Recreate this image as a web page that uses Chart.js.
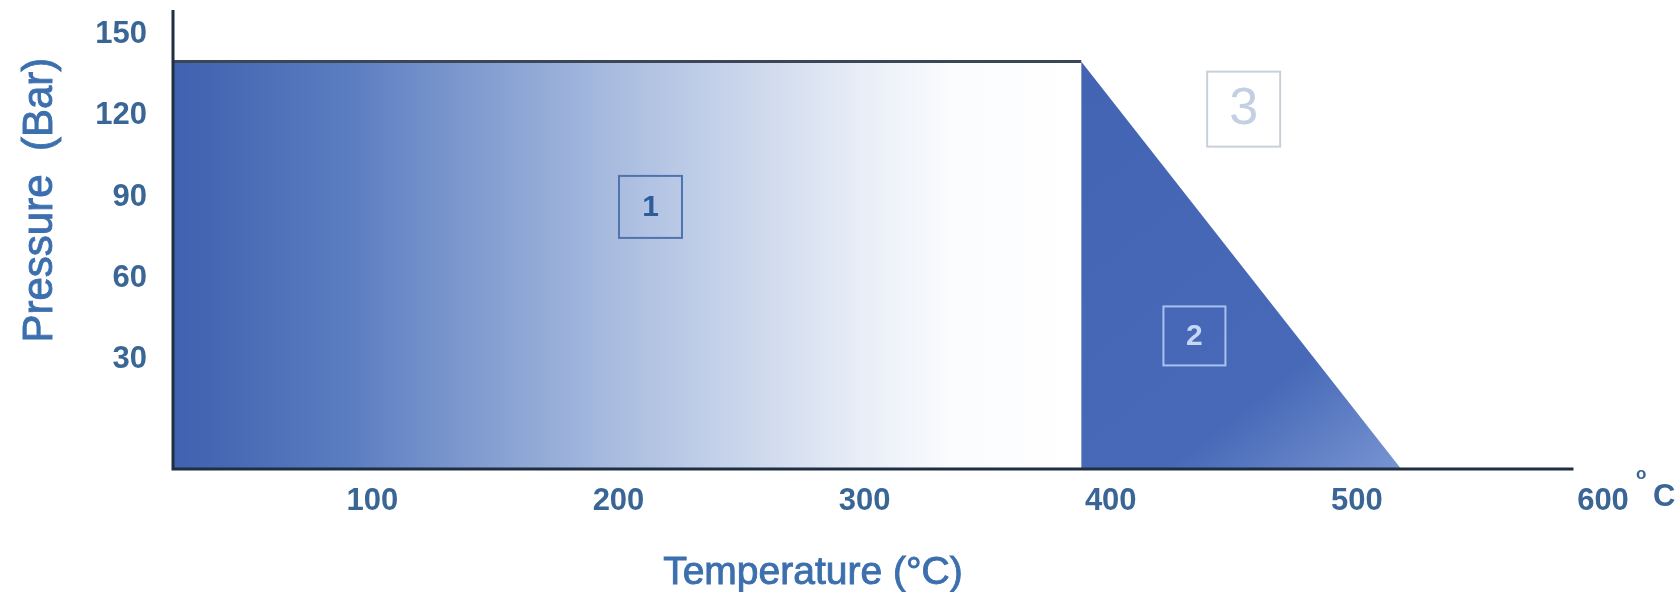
<!DOCTYPE html>
<html>
<head>
<meta charset="utf-8">
<script src="https://cdn.jsdelivr.net/npm/chart.js@4.4.1/dist/chart.umd.min.js"></script>
<style>
  html, body { margin: 0; padding: 0; background: #ffffff; }
  canvas { display: block; }
</style>
</head>
<body>
<canvas id="chart" width="1678" height="592"></canvas>
<script>
  // values
  const xTicks = [100, 200, 300, 400, 500, 600];
  const yTicks = [30, 60, 90, 120, 150];

  // region 1: flat top up to ~388 C
  const rectTemps = [19, 388];
  const rectPressure = [138, 138];

  // region 2: vertical edge at ~388 C, falling to the axis at ~518 C
  const slopeTemps = [388, 388, 518];
  const slopePressure = [-12, 138, -12];

  // boxed region labels
  const regionLabels = ['1', '2', '3'];
  const regionTemps = [213, 434, 454];
  const regionPressure = [84.5, 37, 120.5];

  const X_MIN = 19;
  const X_MAX = 600;
  const X_AXIS_END = 588;
  const Y_MIN = -12;
  const Y_MAX = 157;

  const FONT = '"Liberation Sans", Arial, sans-serif';
  const AXIS_COLOR = '#1f2e40';
  const TICK_COLOR = '#3a6696';
  const TITLE_COLOR = '#3c6fae';
  const FILL_BLUE = '#4466b3';

  const boxStyles = [
    { w: 63, h: 62, border: '#4f74ad', text: '#2d5b9b', size: 30, weight: 'bold', lw: 2 },
    { w: 62, h: 59, border: '#a9c1ee', text: '#c6d7f5', size: 30, weight: 'bold', lw: 2 },
    { w: 73, h: 75, border: '#c9d0da', text: '#c3cfe2', size: 52, weight: 'normal', lw: 2 }
  ];

  function toPoints(xs, ys) {
    return xs.map((v, i) => ({ x: v, y: ys[i] }));
  }

  function rectGradient(context) {
    const chart = context.chart;
    if (!chart.chartArea) {
      return FILL_BLUE;
    }
    const x0 = chart.scales.x.getPixelForValue(rectTemps[0]);
    const x1 = chart.scales.x.getPixelForValue(rectTemps[rectTemps.length - 1]);
    const g = chart.ctx.createLinearGradient(x0, 0, x1, 0);
    g.addColorStop(0, '#3f61af');
    g.addColorStop(0.19, '#5a7cc0');
    g.addColorStop(0.47, '#a5b9de');
    g.addColorStop(0.76, '#e9eef7');
    g.addColorStop(0.86, '#fbfcfe');
    g.addColorStop(1, '#ffffff');
    return g;
  }

  function slopeGradient(context) {
    const chart = context.chart;
    if (!chart.chartArea) {
      return FILL_BLUE;
    }
    const xs = chart.scales.x;
    const ys = chart.scales.y;
    const g = chart.ctx.createLinearGradient(
      xs.getPixelForValue(slopeTemps[1]), ys.getPixelForValue(slopePressure[1]),
      xs.getPixelForValue(slopeTemps[2]), ys.getPixelForValue(slopePressure[2]));
    g.addColorStop(0, '#4364b2');
    g.addColorStop(0.72, '#4769b7');
    g.addColorStop(1, '#7894d2');
    return g;
  }

  function heavyText(ctx, text, x, y) {
    ctx.fillText(text, x, y);
    ctx.strokeText(text, x, y);
  }

  const decorations = {
    id: 'decorations',
    afterDatasetsDraw(chart) {
      const { ctx, chartArea, scales } = chart;
      const x = scales.x;
      const y = scales.y;
      ctx.save();

      // axis lines
      ctx.strokeStyle = AXIS_COLOR;
      ctx.lineWidth = 3;
      ctx.beginPath();
      ctx.moveTo(chartArea.left, chartArea.top);
      ctx.lineTo(chartArea.left, chartArea.bottom);
      ctx.lineTo(x.getPixelForValue(X_AXIS_END), chartArea.bottom);
      ctx.stroke();

      // boxed labels
      regionLabels.forEach((t, i) => {
        const s = boxStyles[i];
        const cx = x.getPixelForValue(regionTemps[i]);
        const cy = y.getPixelForValue(regionPressure[i]);
        ctx.strokeStyle = s.border;
        ctx.lineWidth = s.lw;
        ctx.strokeRect(cx - s.w / 2, cy - s.h / 2, s.w, s.h);
        ctx.fillStyle = s.text;
        ctx.font = s.weight + ' ' + s.size + 'px ' + FONT;
        ctx.textAlign = 'center';
        ctx.textBaseline = 'middle';
        ctx.fillText(t, cx, cy + 1);
      });

      // unit after the last tick label
      const lastX = x.getPixelForValue(xTicks[xTicks.length - 1]);
      ctx.fillStyle = TICK_COLOR;
      ctx.textAlign = 'left';
      ctx.textBaseline = 'middle';
      ctx.font = 'bold 17px ' + FONT;
      ctx.fillText('o', lastX + 33, chartArea.bottom + 5);
      ctx.font = 'bold 31px ' + FONT;
      ctx.fillText('C', lastX + 50, chartArea.bottom + 28);

      // axis titles
      ctx.fillStyle = TITLE_COLOR;
      ctx.strokeStyle = TITLE_COLOR;
      ctx.lineWidth = 0.9;
      ctx.textAlign = 'center';
      ctx.font = '39px ' + FONT;
      heavyText(ctx, 'Temperature (\u00B0C)', x.getPixelForValue(279), chartArea.bottom + 104);

      ctx.font = '42px ' + FONT;
      ctx.translate(40, y.getPixelForValue(87));
      ctx.rotate(-Math.PI / 2);
      heavyText(ctx, 'Pressure  (Bar)', 0, 0);

      ctx.restore();
    }
  };

  const chart = new Chart(document.getElementById('chart').getContext('2d'), {
    type: 'scatter',
    data: {
      datasets: [{
        label: 'Region 2',
        data: toPoints(slopeTemps, slopePressure),
        showLine: true,
        fill: 'start',
        backgroundColor: slopeGradient,
        borderWidth: 0,
        borderColor: 'rgba(0,0,0,0)',
        pointRadius: 0,
        tension: 0
      }, {
        label: 'Region 1',
        data: toPoints(rectTemps, rectPressure),
        showLine: true,
        fill: 'start',
        backgroundColor: rectGradient,
        borderColor: '#3b4756',
        borderWidth: 3,
        pointRadius: 0,
        tension: 0
      }]
    },
    options: {
      responsive: false,
      animation: false,
      events: [],
      layout: {
        padding: { left: 0, right: 75, top: 10, bottom: 0 }
      },
      plugins: {
        legend: { display: false },
        tooltip: { enabled: false }
      },
      scales: {
        x: {
          type: 'linear',
          min: X_MIN,
          max: X_MAX,
          border: { display: false },
          grid: { display: false, drawTicks: false },
          afterBuildTicks: (axis) => {
            axis.ticks = xTicks.map(v => ({ value: v }));
          },
          afterFit: (axis) => {
            axis.height = 123;
            axis.paddingLeft = 0;
            axis.paddingRight = 0;
          },
          ticks: {
            color: TICK_COLOR,
            padding: 14,
            maxRotation: 0,
            font: { family: FONT, size: 31, weight: 'bold' }
          }
        },
        y: {
          type: 'linear',
          min: Y_MIN,
          max: Y_MAX,
          border: { display: false },
          grid: { display: false, drawTicks: false },
          afterBuildTicks: (axis) => {
            axis.ticks = yTicks.map(v => ({ value: v }));
          },
          afterFit: (axis) => {
            axis.width = 173;
            axis.paddingTop = 0;
            axis.paddingBottom = 0;
          },
          ticks: {
            color: TICK_COLOR,
            padding: 26,
            labelOffset: 5,
            font: { family: FONT, size: 31, weight: 'bold' }
          }
        }
      }
    },
    plugins: [decorations]
  });
</script>
</body>
</html>
